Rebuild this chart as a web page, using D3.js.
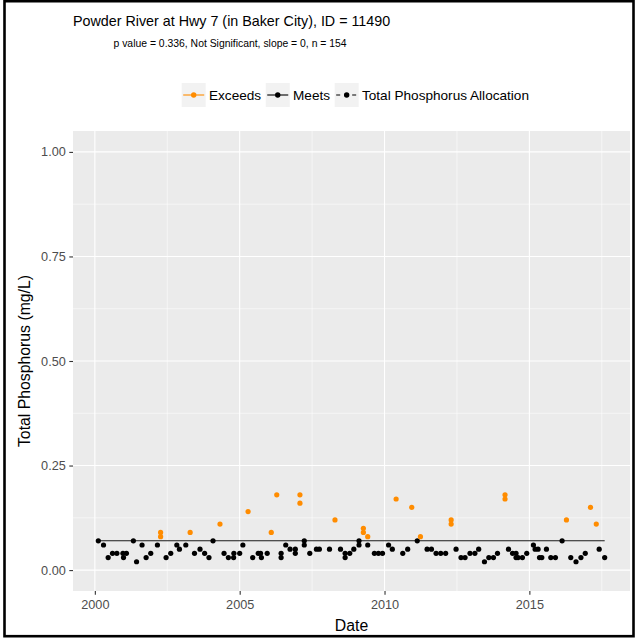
<!DOCTYPE html>
<html>
<head>
<meta charset="utf-8">
<script src="https://cdn.jsdelivr.net/npm/d3@7"></script>
<style>
  body { margin: 0; background: #fff; }
  text { font-family: "Liberation Sans", Arial, sans-serif; }
</style>
</head>
<body>
<div id="chart"></div>
<script>
// Sample dates (decimal years) and total phosphorus (mg/L)
const sampleYear = [2000.12, 2000.30, 2000.46, 2000.61, 2000.76, 2000.97, 2000.99, 2001.09, 2001.33, 2001.44,
    2001.63, 2001.77, 2001.93, 2002.16, 2002.27, 2002.27, 2002.46, 2002.62, 2002.83, 2002.92,
    2003.14, 2003.29, 2003.44, 2003.63, 2003.79, 2003.94, 2004.08, 2004.32, 2004.46, 2004.61,
    2004.79, 2004.80, 2005.00, 2005.11, 2005.29, 2005.45, 2005.64, 2005.72, 2005.75, 2005.95,
    2006.09, 2006.28, 2006.43, 2006.43, 2006.59, 2006.74, 2006.92, 2006.92, 2007.08, 2007.08,
    2007.23, 2007.23, 2007.42, 2007.65, 2007.75, 2008.10, 2008.29, 2008.48, 2008.64, 2008.64,
    2008.80, 2008.94, 2009.12, 2009.12, 2009.27, 2009.27, 2009.42, 2009.42, 2009.65, 2009.79,
    2009.93, 2010.14, 2010.27, 2010.40, 2010.63, 2010.80, 2010.94, 2011.13, 2011.24, 2011.47,
    2011.62, 2011.78, 2011.94, 2012.11, 2012.30, 2012.30, 2012.47, 2012.64, 2012.78, 2012.95,
    2013.12, 2013.25, 2013.45, 2013.60, 2013.76, 2013.90, 2014.16, 2014.16, 2014.28, 2014.42,
    2014.54, 2014.54, 2014.61, 2014.76, 2014.91, 2015.14, 2015.20, 2015.30, 2015.35, 2015.43,
    2015.59, 2015.74, 2015.90, 2016.13, 2016.28, 2016.43, 2016.61, 2016.78, 2016.93, 2017.11,
    2017.31, 2017.41, 2017.60];

const totalP = [0.07, 0.06, 0.03, 0.04, 0.04, 0.04, 0.03, 0.04, 0.07, 0.02,
    0.06, 0.03, 0.04, 0.06, 0.09, 0.08, 0.03, 0.04, 0.06, 0.05,
    0.06, 0.09, 0.04, 0.05, 0.04, 0.03, 0.07, 0.11, 0.04, 0.03,
    0.03, 0.04, 0.04, 0.06, 0.14, 0.03, 0.04, 0.04, 0.03, 0.04,
    0.09, 0.18, 0.04, 0.03, 0.06, 0.05, 0.05, 0.04, 0.18, 0.16,
    0.07, 0.06, 0.04, 0.05, 0.05, 0.05, 0.12, 0.05, 0.04, 0.03,
    0.04, 0.05, 0.07, 0.06, 0.10, 0.09, 0.08, 0.06, 0.04, 0.04,
    0.04, 0.06, 0.05, 0.17, 0.04, 0.05, 0.15, 0.07, 0.08, 0.05,
    0.05, 0.04, 0.04, 0.04, 0.12, 0.11, 0.05, 0.03, 0.03, 0.04,
    0.04, 0.05, 0.02, 0.03, 0.03, 0.04, 0.18, 0.17, 0.05, 0.04,
    0.04, 0.03, 0.03, 0.03, 0.04, 0.06, 0.05, 0.05, 0.03, 0.03,
    0.05, 0.03, 0.03, 0.07, 0.12, 0.03, 0.02, 0.03, 0.04, 0.15,
    0.11, 0.05, 0.03];

const allocation = 0.07;

const xTicks = [2000, 2005, 2010, 2015];
const xMinor = [2002.5, 2007.5, 2012.5, 2017.5];
const yTicks = [0, 0.25, 0.5, 0.75, 1];
const yMinor = [0.125, 0.375, 0.625, 0.875];

const legendItems = ['Exceeds', 'Meets', 'Total Phosphorus Allocation'];
const colors = { Exceeds: '#FF8C00', Meets: '#000000' };

const W = 636, H = 638;
const panel = { left: 73, right: 630, top: 131, bottom: 591 };

const svg = d3.select('#chart')
    .append('svg')
    .attr('width', W)
    .attr('height', H);

svg.append('rect').attr('width', W).attr('height', H).attr('fill', '#fff');

// outer frame
svg.append('rect')
    .attr('x', 4.5).attr('y', 1.2)
    .attr('width', 629).attr('height', 635)
    .attr('fill', 'none').attr('stroke', '#000').attr('stroke-width', 2.6);

// scales with ggplot-like 5% expansion
const xExt = d3.extent(sampleYear);
const xPad = (xExt[1] - xExt[0]) * 0.05;
const x = d3.scaleLinear()
    .domain([xExt[0] - xPad, xExt[1] + xPad])
    .range([panel.left, panel.right]);

const y = d3.scaleLinear()
    .domain([-0.05, 1.05])
    .range([panel.bottom, panel.top]);

// panel background + grid
svg.append('rect')
    .attr('x', panel.left).attr('y', panel.top)
    .attr('width', panel.right - panel.left)
    .attr('height', panel.bottom - panel.top)
    .attr('fill', '#EBEBEB');

const grid = svg.append('g');
grid.selectAll('.ymin').data(yMinor).enter().append('line')
    .attr('x1', panel.left).attr('x2', panel.right)
    .attr('y1', d => y(d)).attr('y2', d => y(d))
    .attr('stroke', '#fff').attr('stroke-width', 0.55);
grid.selectAll('.xmin').data(xMinor).enter().append('line')
    .attr('y1', panel.top).attr('y2', panel.bottom)
    .attr('x1', d => x(d)).attr('x2', d => x(d))
    .attr('stroke', '#fff').attr('stroke-width', 0.55);
grid.selectAll('.ymaj').data(yTicks).enter().append('line')
    .attr('x1', panel.left).attr('x2', panel.right)
    .attr('y1', d => y(d)).attr('y2', d => y(d))
    .attr('stroke', '#fff').attr('stroke-width', 1.1);
grid.selectAll('.xmaj').data(xTicks).enter().append('line')
    .attr('y1', panel.top).attr('y2', panel.bottom)
    .attr('x1', d => x(d)).attr('x2', d => x(d))
    .attr('stroke', '#fff').attr('stroke-width', 1.1);

// axes
const xAxis = svg.append('g')
    .attr('transform', `translate(0,${panel.bottom})`)
    .call(d3.axisBottom(x).tickValues(xTicks).tickFormat(d3.format('d')).tickSize(3.7).tickPadding(5));

const yAxis = svg.append('g')
    .attr('transform', `translate(${panel.left},0)`)
    .call(d3.axisLeft(y).tickValues(yTicks).tickFormat(d3.format('.2f')).tickSize(3.7).tickPadding(3.5));

[xAxis, yAxis].forEach(ax => {
    ax.select('.domain').remove();
    ax.selectAll('line').attr('stroke', '#333').attr('stroke-width', 1.1);
    ax.selectAll('text')
        .attr('fill', '#4D4D4D')
        .style('font-size', '12.7px')
        .style('font-family', '"Liberation Sans", Arial, sans-serif');
});

// allocation line
const line = d3.line().x(d => x(d[0])).y(d => y(d[1]));
svg.append('path')
    .datum([[xExt[0], allocation], [xExt[1], allocation]])
    .attr('d', line)
    .attr('fill', 'none')
    .attr('stroke', '#1a1a1a')
    .attr('stroke-width', 1.1);

// points
const pts = sampleYear.map((yr, i) => ({ yr: yr, v: totalP[i], status: totalP[i] > allocation ? 'Exceeds' : 'Meets' }));
svg.selectAll('.pt')
    .data(pts)
    .enter().append('circle')
    .attr('class', 'pt')
    .attr('cx', d => x(d.yr))
    .attr('cy', d => y(d.v))
    .attr('r', 2.6)
    .attr('fill', d => colors[d.status]);

// axis titles
svg.append('text')
    .attr('x', (panel.left + panel.right) / 2)
    .attr('y', 631)
    .attr('text-anchor', 'middle')
    .style('font-size', '15.8px')
    .attr('fill', '#000')
    .text('Date');

svg.append('text')
    .attr('transform', `translate(30,${(panel.top + panel.bottom) / 2}) rotate(-90)`)
    .attr('text-anchor', 'middle')
    .style('font-size', '15.8px')
    .attr('fill', '#000')
    .text('Total Phosphorus (mg/L)');

// titles
svg.append('text')
    .attr('x', 73).attr('y', 25.5)
    .style('font-size', '14.3px')
    .attr('fill', '#000')
    .text('Powder River at Hwy 7 (in Baker City), ID = 11490');

svg.append('text')
    .attr('x', 113.5).attr('y', 47)
    .style('font-size', '10.4px')
    .attr('fill', '#000')
    .text('p value = 0.336, Not Significant, slope = 0, n = 154');

// legend
const legend = svg.append('g');
let lx = 181.7;
const ly = 83, keyW = 24, keyH = 24;
legendItems.forEach((name, i) => {
    const g = legend.append('g');
    g.append('rect')
        .attr('x', lx).attr('y', ly)
        .attr('width', keyW).attr('height', keyH)
        .attr('fill', '#F2F2F2');
    const c = colors[name] || '#000';
    g.append('line')
        .attr('x1', lx + 1.5).attr('x2', lx + keyW - 1.5)
        .attr('y1', ly + keyH / 2).attr('y2', ly + keyH / 2)
        .attr('stroke', c).attr('stroke-width', 1.1)
        .attr('stroke-dasharray', i === 2 ? '4,4' : null);
    g.append('circle')
        .attr('cx', lx + keyW / 2).attr('cy', ly + keyH / 2)
        .attr('r', 2.7).attr('fill', c);
    const t = g.append('text')
        .attr('x', lx + keyW + 3.3)
        .attr('y', ly + keyH / 2)
        .attr('dy', '0.36em')
        .style('font-size', '13.6px')
        .attr('fill', '#000')
        .text(name);
    lx += keyW + 3.3 + t.node().getComputedTextLength() + 4.6;
});
</script>
</body>
</html>
